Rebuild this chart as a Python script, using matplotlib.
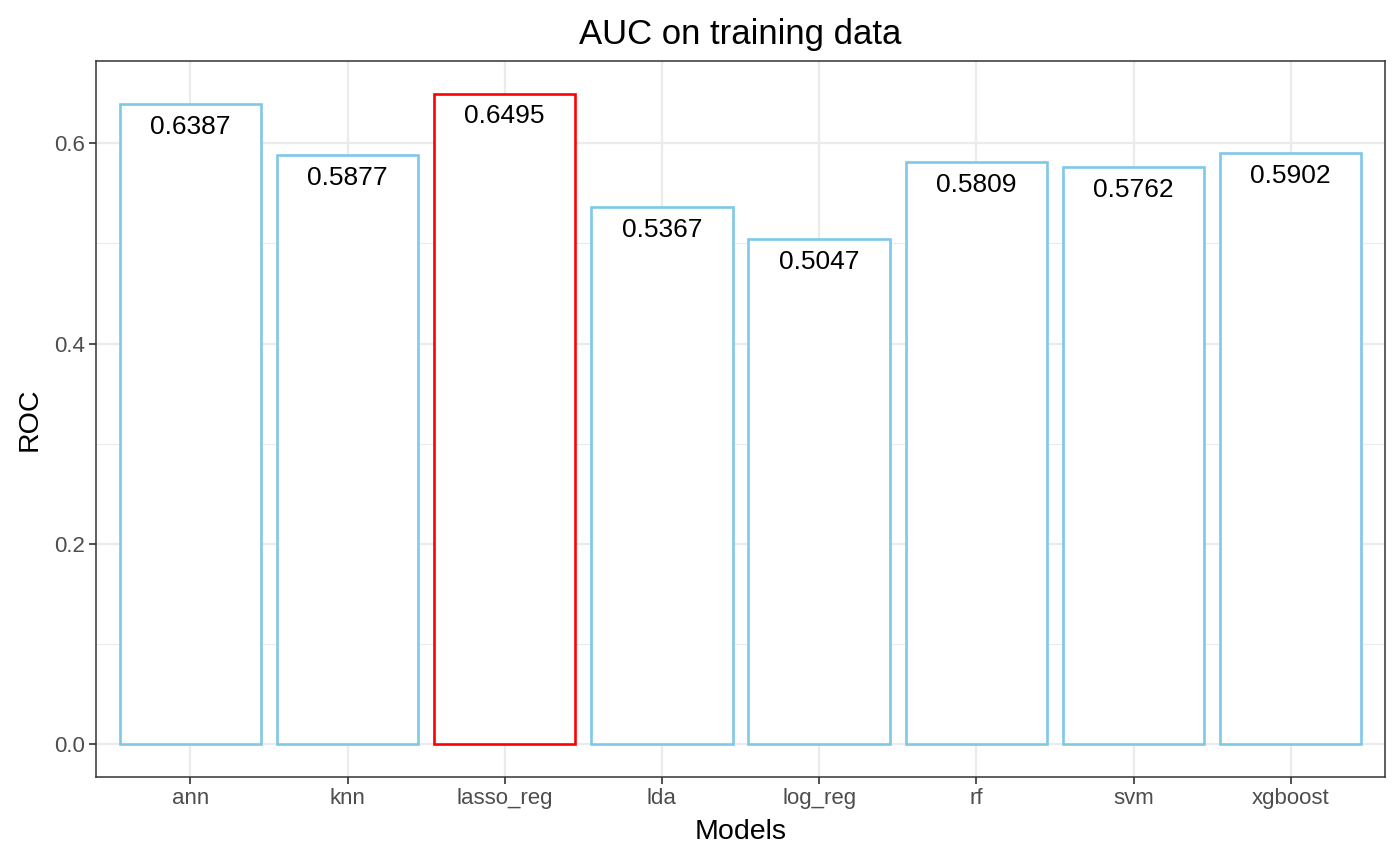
import matplotlib
matplotlib.use('Agg')
import matplotlib.pyplot as plt
import numpy as np

# 데이터
models = ['ann', 'knn', 'lasso_reg', 'lda', 'log_reg', 'rf', 'svm', 'xgboost']
roc = [0.6387, 0.5877, 0.6495, 0.5367, 0.5047, 0.5809, 0.5762, 0.5902]
best = 'lasso_reg'

plt.rcParams['font.family'] = ['Liberation Sans', 'DejaVu Sans']

fig = plt.figure(figsize=(14, 8.65), dpi=100)
ax = fig.add_axes([0.0686, 0.1017, 0.9207, 0.8278])

x = np.arange(len(models))
edge = ['red' if m == best else '#7EC8E8' for m in models]
ax.bar(x, roc, width=0.9, facecolor='white', edgecolor=edge, linewidth=1.9, zorder=3)

for xi, v in zip(x, roc):
    ax.annotate(f'{v:.4f}', (xi, v), xytext=(0, -16.5), textcoords='offset points',
                ha='center', va='center', fontsize=19, color='black', zorder=4)

# 축 / 격자 (ggplot theme_bw 스타일)
ax.set_xlim(-0.6, len(models) - 0.4)
ax.set_ylim(-0.0325, 0.682)
ax.set_xticks(x)
ax.set_xticklabels(models)
ax.set_yticks([0.0, 0.2, 0.4, 0.6])
ax.set_yticklabels(['0.0', '0.2', '0.4', '0.6'])
ax.set_yticks([0.1, 0.3, 0.5], minor=True)
ax.grid(True, which='major', color='#EBEBEB', linewidth=1.6, zorder=0)
ax.grid(True, which='minor', axis='y', color='#EBEBEB', linewidth=0.8, zorder=0)
ax.tick_params(which='major', length=5, width=1.2, color='#333333',
               labelsize=16, labelcolor='#4D4D4D', pad=3)
ax.tick_params(which='minor', length=0)
for s in ax.spines.values():
    s.set_color('#333333')
    s.set_linewidth(1.1)

ax.set_xlabel('Models', fontsize=20.5, labelpad=7)
ax.set_ylabel('ROC', fontsize=20.5, labelpad=8)
ax.set_title('AUC on training data', fontsize=25, pad=12)

fig.savefig('out.png', dpi=100, facecolor='white')
